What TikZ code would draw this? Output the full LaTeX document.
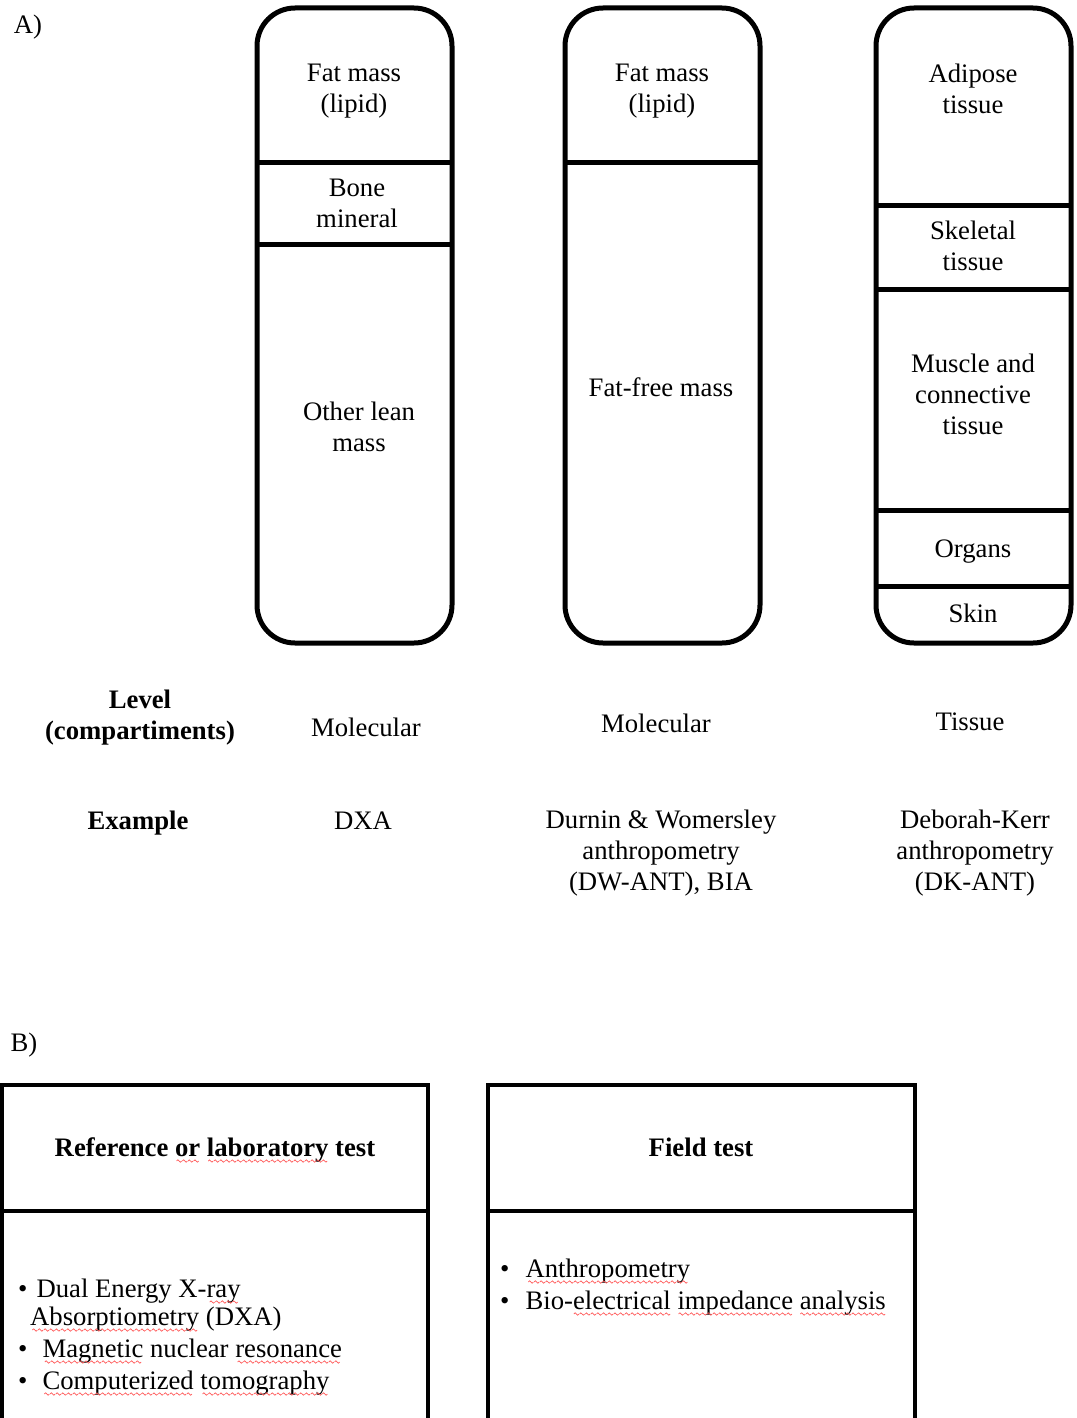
\documentclass[tikz,border=0pt]{standalone}
\usepackage{fontspec}
\setmainfont{Liberation Serif}
\newsavebox\sqbox
\newcommand\wavetile{\tikz[baseline=0pt]{\path (0pt,0pt) (5pt,0pt); \draw[red!65,line width=0.7pt] (0pt,-5pt) -- (1.25pt,-3.8pt) -- (3.75pt,-6.2pt) -- (5pt,-5pt);}}
\newcommand\sq[1]{\sbox\sqbox{#1}\usebox\sqbox\llap{\hbox to \wd\sqbox{\cleaders\hbox{\wavetile}\hfill}}}
\begin{document}
\begin{tikzpicture}[x=1pt,y=-1pt,
  colbox/.style={line width=5pt, rounded corners=38pt},
  sepline/.style={line width=5pt},
  tbox/.style={line width=4pt},
  lbl/.style={font=\fontsize{26.7}{31}\selectfont, align=center, inner sep=0pt},
  hd/.style={font=\fontsize{26.7}{31}\selectfont\bfseries, align=center, inner sep=0pt},
  item/.style={font=\fontsize{26.7}{31}\selectfont, inner sep=0pt, anchor=base west},
]
\useasboundingbox (0,0) rectangle (1076,1418);
\fill[white] (0,0) rectangle (1076,1418);

% panel labels
\node[lbl] (labA) at (28,27) {A)};
\node[lbl] (labB) at (24,1045) {B)};

% column 1
\draw[colbox] (257,8) rectangle (452,643);
\draw[sepline] (257,162) -- (452,162);
\draw[sepline] (257,244) -- (452,244);
\node[lbl] (c1a) at (354,91.5) {Fat mass\\(lipid)};
\node[lbl] (c1b) at (357,203.5) {Bone\\mineral};
\node[lbl] (c1c) at (359,426.5) {Other lean\\mass};

% column 2
\draw[colbox] (565,8) rectangle (760,643);
\draw[sepline] (565,162) -- (760,162);
\node[lbl] (c2a) at (662,91.5) {Fat mass\\(lipid)};
\node[lbl] (c2b) at (661,387) {Fat-free mass};

% column 3
\draw[colbox] (876,8) rectangle (1071,643);
\draw[sepline] (876,205) -- (1071,205);
\draw[sepline] (876,289) -- (1071,289);
\draw[sepline] (876,510) -- (1071,510);
\draw[sepline] (876,586) -- (1071,586);
\node[lbl] (c3a) at (973,88.5) {Adipose\\tissue};
\node[lbl] (c3b) at (973,245.5) {Skeletal\\tissue};
\node[lbl] (c3c) at (973,394.5) {Muscle and\\connective\\tissue};
\node[lbl] (c3d) at (973,552) {Organs};
\node[lbl] (c3e) at (973,613.5) {Skin};

% level row
\node[hd] (lev) at (140,717.5) {Level\\(compartiments)};
\node[lbl] (lev1) at (366,727.5) {Molecular};
\node[lbl] (lev2) at (656,723.5) {Molecular};
\node[lbl] (lev3) at (970,721.5) {Tissue};

% example row
\node[hd] (ex) at (138,823) {Example};
\node[lbl] (ex1) at (363,820.5) {DXA};
\node[lbl] (ex2) at (661,853.5) {Durnin \& Womersley\\anthropometry\\(DW-ANT), BIA};
\node[lbl] (ex3) at (975,853.5) {Deborah-Kerr\\anthropometry\\(DK-ANT)};

% panel B boxes
\draw[tbox] (2,1430) -- (2,1085) -- (428,1085) -- (428,1430);
\draw[tbox] (2,1211) -- (428,1211);
\draw[tbox] (488,1430) -- (488,1085) -- (915,1085) -- (915,1430);
\draw[tbox] (488,1211) -- (915,1211);

\node[hd, anchor=base] (t1) at (215,1156) {Reference \sq{or} \sq{laboratory} test};
\node[hd, anchor=base] (t2) at (701,1156) {Field test};

\node[item] (b1) at (18,1297) {\textbullet\hspace{9pt}Dual Energy X-\sq{ray}};
\node[item] (b1b) at (30,1325) {\sq{Absorptiometry} (DXA)};
\node[item] (b2) at (18,1357) {\textbullet\hspace{15pt}\sq{Magnetic} nuclear \sq{resonance}};
\node[item] (b3) at (18,1389) {\textbullet\hspace{15pt}\sq{Computerized} \sq{tomography}};

\node[item] (f1) at (500,1277) {\textbullet\hspace{16pt}\sq{Anthropometry}};
\node[item] (f2) at (500,1309) {\textbullet\hspace{16pt}Bio-\sq{electrical} \sq{impedance} \sq{analysis}};
\end{tikzpicture}
\end{document}
